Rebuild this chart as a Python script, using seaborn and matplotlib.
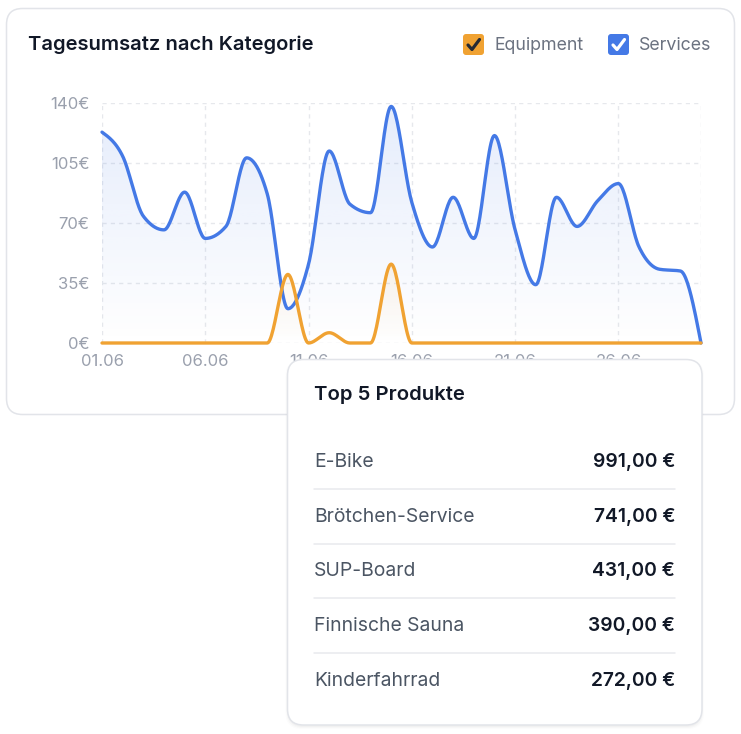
import numpy as np
import matplotlib.pyplot as plt
import seaborn as sns
from matplotlib.patches import FancyBboxPatch, Polygon
from matplotlib.colors import to_rgb

# ---- data ----
days = ["01.06", "02.06", "03.06", "04.06", "05.06", "06.06", "07.06", "08.06", "09.06", "10.06",
        "11.06", "12.06", "13.06", "14.06", "15.06", "16.06", "17.06", "18.06", "19.06", "20.06",
        "21.06", "22.06", "23.06", "24.06", "25.06", "26.06", "27.06", "28.06", "29.06", "30.06"]
services = [123, 109, 74, 66, 88, 61, 68, 108, 87, 20,
            46, 112, 81, 76, 138, 82, 56, 85, 61, 121,
            66, 34, 85, 68, 83, 93, 56, 43, 42, 0]
equipment = [0, 0, 0, 0, 0, 0, 0, 0, 0, 40,
             0, 6, 0, 0, 46, 0, 0, 0, 0, 0,
             0, 0, 0, 0, 0, 0, 0, 0, 0, 0]
y_ticks = [0, 35, 70, 105, 140]
x_ticks = [0, 5, 10, 15, 20, 25]

products = ["E-Bike", "Brötchen-Service", "SUP-Board", "Finnische Sauna", "Kinderfahrrad"]
revenue = ["991,00 €", "741,00 €", "431,00 €", "390,00 €", "272,00 €"]

BLUE = "#4479e6"
ORANGE = "#f0a232"
GRID = "#e6e8ec"
BORDER = "#e2e4e9"


def monotone_x(x, y, n=24):
    # d3.curveMonotoneX style smoothing of the polyline
    x = np.asarray(x, float)
    y = np.asarray(y, float)
    h = np.diff(x)
    s = np.diff(y) / h
    t = np.zeros_like(y)
    for i in range(1, len(y) - 1):
        p = (s[i - 1] * h[i] + s[i] * h[i - 1]) / (h[i - 1] + h[i])
        t[i] = (np.sign(s[i - 1]) + np.sign(s[i])) * min(abs(s[i - 1]), abs(s[i]), 0.5 * abs(p))
    t[0] = (3 * s[0] - t[1]) / 2
    t[-1] = (3 * s[-1] - t[-2]) / 2
    xs, ys = [], []
    for i in range(len(h)):
        u = np.linspace(0, 1, n, endpoint=(i == len(h) - 1))
        h00 = 2 * u**3 - 3 * u**2 + 1
        h10 = u**3 - 2 * u**2 + u
        h01 = -2 * u**3 + 3 * u**2
        h11 = u**3 - u**2
        xs.append(x[i] + u * h[i])
        ys.append(h00 * y[i] + h10 * h[i] * t[i] + h01 * y[i + 1] + h11 * h[i] * t[i + 1])
    return np.concatenate(xs), np.concatenate(ys)


sns.set_theme(style="white")
plt.rcParams['font.family'] = ['Inter', 'DejaVu Sans']

W, H = 741, 734
fig = plt.figure(figsize=(W / 100, H / 100), dpi=100)
fig.patch.set_facecolor("white")

# background layer (pixel coordinates)
bg = fig.add_axes([0, 0, 1, 1], zorder=0)
bg.set_xlim(0, W)
bg.set_ylim(H, 0)
bg.axis("off")

bg.add_patch(FancyBboxPatch((6.5, 8.5), 728, 406, boxstyle="round,pad=0,rounding_size=16",
                            fc="white", ec=BORDER, lw=1.1))
bg.text(28, 45, "Tagesumsatz nach Kategorie", fontsize=14.5, fontweight="semibold",
        color="#111827", va="center", ha="left")

# legend checkboxes
for x0, col, label, tick in [(463, ORANGE, "Equipment", "#262a33"), (608, BLUE, "Services", "white")]:
    bg.add_patch(FancyBboxPatch((x0, 34), 21, 21, boxstyle="round,pad=0,rounding_size=3",
                                fc=col, ec="none"))
    bg.plot([x0 + 5, x0 + 9, x0 + 16.5], [45, 49.5, 39.5], color=tick, lw=2.3,
            solid_capstyle="round", solid_joinstyle="round")
    bg.text(x0 + 31, 45, label, fontsize=12.8, color="#6b7280", va="center", ha="left")

# chart
ax = fig.add_axes([102 / W, (H - 343) / H, 599 / W, 240 / H], zorder=1)
ax.patch.set_alpha(0)
idx = np.arange(len(days))

for vals, col, top_alpha in [(services, BLUE, 0.14), (equipment, ORANGE, 0.10)]:
    xs, ys = monotone_x(idx, vals)
    ys = np.clip(ys, 0, None)
    poly = Polygon(np.column_stack([np.r_[xs, xs[-1], xs[0]], np.r_[ys, 0, 0]]),
                   closed=True, fc="none", ec="none")
    ax.add_patch(poly)
    r, g, b = to_rgb(col)
    ymax = max(vals)
    grad = np.zeros((256, 1, 4))
    grad[:, 0, 0], grad[:, 0, 1], grad[:, 0, 2] = r, g, b
    grad[:, 0, 3] = np.linspace(0.0, top_alpha, 256)
    im = ax.imshow(grad, extent=[0, 29, 0, ymax], origin="lower", aspect="auto",
                   interpolation="bicubic", zorder=1)
    im.set_clip_path(poly)

xs_s, ys_s = monotone_x(idx, services)
xs_e, ys_e = monotone_x(idx, equipment)
sns.lineplot(x=xs_s, y=ys_s, ax=ax, color=BLUE, linewidth=2.4, estimator=None, sort=False, zorder=3)
sns.lineplot(x=xs_e, y=np.clip(ys_e, 0, None), ax=ax, color=ORANGE, linewidth=2.4,
             estimator=None, sort=False, zorder=4)
for ln in ax.lines:
    ln.set_clip_on(False)

ax.set_xlim(0, 29)
ax.set_ylim(0, 140)
ax.set_xticks(x_ticks)
ax.set_xticklabels([days[i] for i in x_ticks])
ax.set_yticks(y_ticks)
ax.set_yticklabels([f"{v}€" for v in y_ticks])
ax.grid(True, color=GRID, lw=1.0, linestyle=(0, (3, 3)))
ax.axvline(29, color=GRID, lw=1.0, linestyle=(0, (3, 3)), zorder=0)
ax.set_axisbelow(True)
sns.despine(ax=ax, left=True, bottom=True)
ax.tick_params(axis="both", length=0, labelsize=12, labelcolor="#9aa0ad")
ax.tick_params(axis="y", pad=9)
ax.tick_params(axis="x", pad=8)
ax.set_xlabel("")
ax.set_ylabel("")

# overlay card with top products
ov = fig.add_axes([0, 0, 1, 1], zorder=3)
ov.set_xlim(0, W)
ov.set_ylim(H, 0)
ov.axis("off")
ov.patch.set_alpha(0)
for k, a in enumerate([0.025, 0.018, 0.01]):
    ov.add_patch(FancyBboxPatch((287.5 - k, 361 - k + 1), 414.5 + 2 * k, 365 + 2 * k,
                                boxstyle="round,pad=0,rounding_size=16", fc="black", ec="none", alpha=a))
ov.add_patch(FancyBboxPatch((287.5, 359.5), 414.5, 365.5, boxstyle="round,pad=0,rounding_size=16",
                            fc="white", ec=BORDER, lw=1.1))
ov.text(314, 395.5, "Top 5 Produkte", fontsize=14.6, fontweight="semibold", color="#111827",
        va="center", ha="left")
row_y = [462, 516.5, 571, 626, 680.5]
for i, (name, val) in enumerate(zip(products, revenue)):
    ov.text(314, row_y[i], name, fontsize=13.9, color="#4b5563", va="center", ha="left")
    ov.text(675, row_y[i], val, fontsize=13.9, fontweight="semibold", color="#111827",
            va="center", ha="right")
    if i < len(products) - 1:
        ov.plot([314, 675], [row_y[i] + 27.3, row_y[i] + 27.3], color="#e8eaee", lw=1.1)

fig.savefig("out.png", dpi=100, facecolor="white")
